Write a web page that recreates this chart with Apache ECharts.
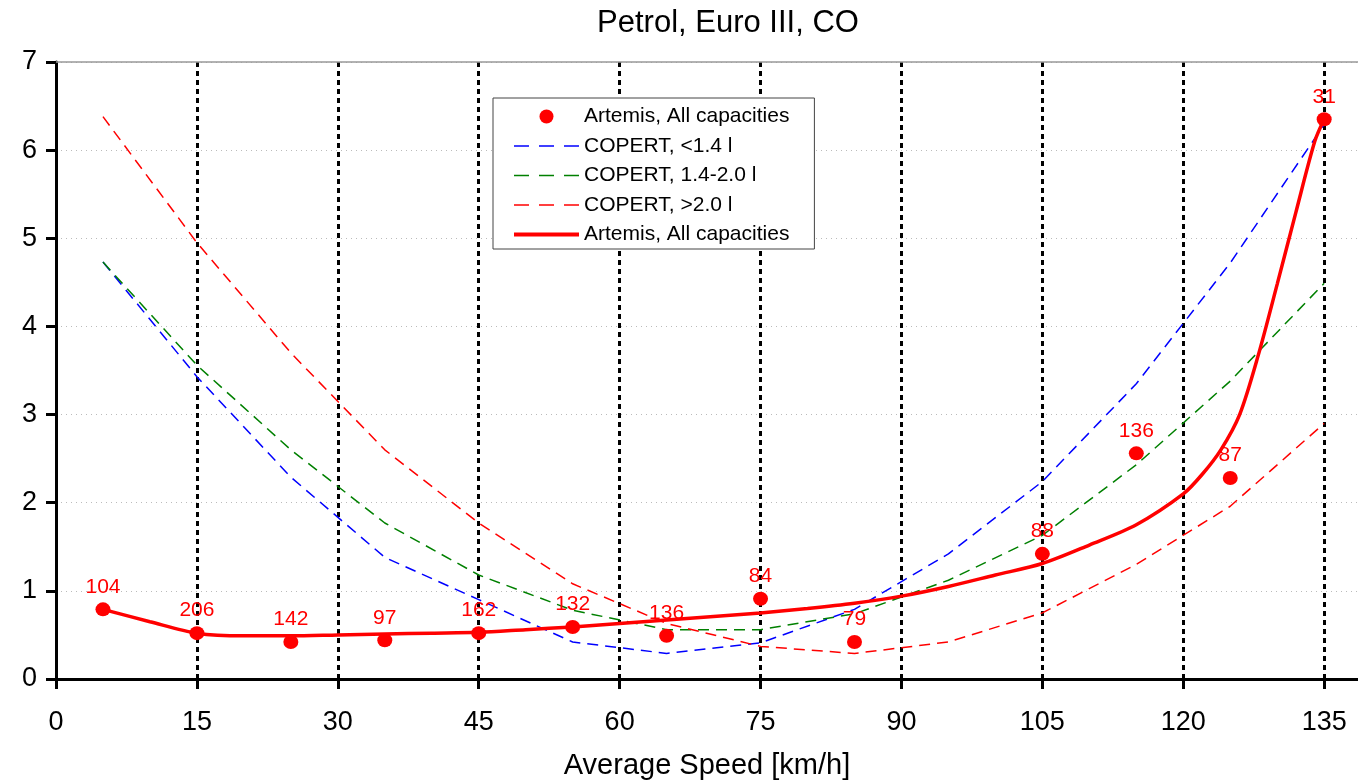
<!DOCTYPE html>
<html>
<head>
<meta charset="utf-8">
<script src="https://cdn.jsdelivr.net/npm/echarts@6/dist/echarts.min.js"></script>
<style>html,body{margin:0;padding:0;background:#fff}#c{width:1358px;height:781px}</style>
</head>
<body>
<div id="c"></div>
<script>
// ---- data ----
const xTicks = [0, 15, 30, 45, 60, 75, 90, 105, 120, 135];
const copertSpeeds = [5, 15, 25, 35, 45, 55, 65, 75, 85, 95, 105, 115, 125, 135];
const copertSmall = [4.73, 3.43, 2.29, 1.38, 0.90, 0.42, 0.29, 0.41, 0.79, 1.42, 2.24, 3.35, 4.72, 6.29];
const copertMid   = [4.73, 3.56, 2.60, 1.77, 1.18, 0.78, 0.56, 0.56, 0.74, 1.12, 1.63, 2.43, 3.38, 4.49];
const copertLarge = [6.38, 4.95, 3.70, 2.60, 1.77, 1.08, 0.63, 0.37, 0.29, 0.42, 0.75, 1.30, 1.96, 2.90];
const artemisSpeeds = [5, 15, 25, 35, 45, 55, 65, 75, 85, 105, 115, 125, 135];
const artemisValues = [0.79, 0.52, 0.42, 0.44, 0.52, 0.59, 0.49, 0.91, 0.42, 1.42, 2.56, 2.28, 6.35];
const artemisCounts = [104, 206, 142, 97, 162, 132, 136, 84, 79, 88, 136, 87, 31];
const fitSpeeds = [5, 10, 15, 20, 25, 30, 35, 40, 45, 50, 55, 60, 65, 70, 75, 80, 85, 90, 95, 100, 105, 110, 115, 120, 122, 124, 126, 128, 130, 132, 134, 135];
const fitValues = [0.79, 0.65, 0.52, 0.49, 0.49, 0.50, 0.51, 0.52, 0.53, 0.56, 0.59, 0.63, 0.67, 0.71, 0.75, 0.80, 0.86, 0.94, 1.05, 1.18, 1.31, 1.52, 1.75, 2.10, 2.32, 2.60, 3.00, 3.68, 4.48, 5.30, 6.10, 6.35];
const seriesKeys = ['artemisPts', 'copertSmall', 'copertMid', 'copertLarge', 'artemisFit'];
const legendTexts = ['Artemis, All capacities', 'COPERT, <1.4 l', 'COPERT, 1.4-2.0 l', 'COPERT, >2.0 l', 'Artemis, All capacities'];

const pairs = (xs, ys) => xs.map((x, i) => [x, ys[i]]);
const FONT = '"Liberation Sans", Arial, Helvetica, sans-serif';
const XMAX = 138.6;

const chart = echarts.init(document.getElementById('c'), null, {renderer: 'canvas'});
const dashed = (color) => ({color: color, width: 1.5, type: [11, 7]});
const hiddenSymbol = {opacity: 0, borderWidth: 0};
const legendDash = {width: 1.6, type: [15, 10]};

chart.setOption({
  animation: false,
  backgroundColor: '#fff',
  textStyle: {fontFamily: FONT},
  title: {
    text: 'Petrol, Euro III, CO',
    left: 723, top: 3, textAlign: 'center',
    textStyle: {fontSize: 31, fontWeight: 'normal', color: '#000', fontFamily: FONT}
  },
  legend: {
    orient: 'vertical',
    left: 493, top: 98,
    padding: [8, 25, 4, 19],
    itemGap: 8.5,
    itemWidth: 65,
    itemHeight: 14,
    itemTextGap: 5,
    backgroundColor: '#fff',
    borderColor: '#444',
    borderWidth: 1,
    borderRadius: 0,
    data: [
      {name: seriesKeys[0]},
      {name: seriesKeys[1], itemStyle: hiddenSymbol, lineStyle: legendDash},
      {name: seriesKeys[2], itemStyle: hiddenSymbol, lineStyle: legendDash},
      {name: seriesKeys[3], itemStyle: hiddenSymbol, lineStyle: legendDash},
      {name: seriesKeys[4], itemStyle: hiddenSymbol, lineStyle: {width: 4}}
    ],
    formatter: (name) => legendTexts[seriesKeys.indexOf(name)],
    textStyle: {fontSize: 21, color: '#000', lineHeight: 21, fontFamily: FONT}
  },
  grid: {left: 56, right: 0, top: 62, bottom: 102, containLabel: false, outerBoundsMode: 'none'},
  xAxis: [{
    type: 'value', min: 0, max: XMAX, position: 'bottom',
    name: 'Average Speed [km/h]', nameLocation: 'middle', nameGap: 72,
    nameTextStyle: {fontSize: 29, color: '#000', fontFamily: FONT},
    axisLine: {show: true, onZero: false, lineStyle: {color: '#000', width: 3}},
    axisTick: {show: true, length: 10, lineStyle: {color: '#000', width: 3}, customValues: xTicks},
    axisLabel: {fontSize: 27, color: '#000', margin: 30, customValues: xTicks, fontFamily: FONT},
    splitLine: {show: true, lineStyle: {color: '#000', width: 3, type: [5, 4]}}
  }, {
    type: 'value', min: 0, max: XMAX, position: 'top',
    axisLine: {show: true, onZero: false, lineStyle: {color: '#999', width: 1.5}},
    axisTick: {show: false}, axisLabel: {show: false}, splitLine: {show: false}
  }],
  yAxis: {
    type: 'value', min: 0, max: 7, interval: 1,
    axisLine: {show: true, onZero: false, lineStyle: {color: '#000', width: 3}},
    axisTick: {show: true, length: 10, lineStyle: {color: '#000', width: 3}},
    axisLabel: {fontSize: 27, color: '#000', margin: 19, fontFamily: FONT},
    splitLine: {show: true, lineStyle: {color: '#bbb', width: 1, type: [1, 4]}}
  },
  series: [
    {
      name: seriesKeys[0], type: 'scatter', z: 5,
      data: pairs(artemisSpeeds, artemisValues),
      symbol: 'circle', symbolSize: [15, 14],
      itemStyle: {color: '#ff0000', opacity: 1},
      label: {show: true, position: 'top', distance: 5, color: '#ff0000', fontSize: 21, fontFamily: FONT,
              formatter: (p) => String(artemisCounts[p.dataIndex])}
    },
    {name: seriesKeys[1], type: 'line', symbol: 'none', data: pairs(copertSpeeds, copertSmall), lineStyle: dashed('#0000ff'), itemStyle: {color: '#0000ff'}, z: 2},
    {name: seriesKeys[2], type: 'line', symbol: 'none', data: pairs(copertSpeeds, copertMid), lineStyle: dashed('#008000'), itemStyle: {color: '#008000'}, z: 2},
    {name: seriesKeys[3], type: 'line', symbol: 'none', data: pairs(copertSpeeds, copertLarge), lineStyle: dashed('#ff0000'), itemStyle: {color: '#ff0000'}, z: 2},
    {name: seriesKeys[4], type: 'line', symbol: 'none', smooth: 0.3, data: pairs(fitSpeeds, fitValues),
     lineStyle: {color: '#ff0000', width: 3.5, type: 'solid'}, itemStyle: {color: '#ff0000'}, z: 4}
  ]
});
</script>
</body>
</html>
